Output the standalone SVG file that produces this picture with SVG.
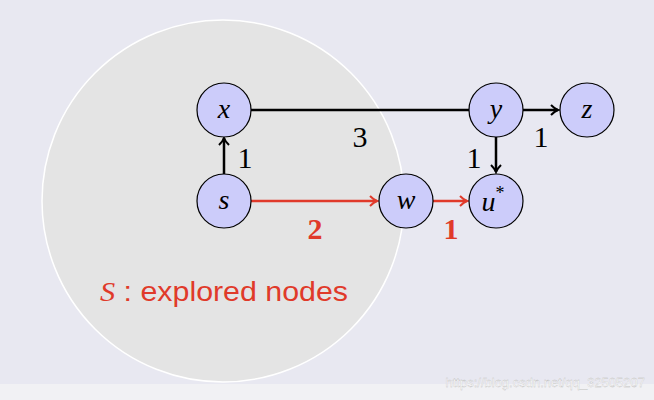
<svg xmlns="http://www.w3.org/2000/svg" width="654" height="400" viewBox="0 0 654 400">
<style>
.n{fill:#ccccfa;stroke:#000;stroke-width:1.2}
.t{font-family:"Liberation Serif",serif;font-style:italic;font-size:28px;text-anchor:middle}
.l{font-family:"Liberation Serif",serif;font-size:30px;text-anchor:middle}
.e{fill:none;stroke-width:2.5}
</style>
<defs>
<marker id="ab" markerWidth="10" markerHeight="12" refX="8" refY="6" orient="auto" markerUnits="userSpaceOnUse"><path d="M1,1 Q5,5 8,6 Q5,7 1,11" fill="none" stroke="#000" stroke-width="2"/></marker>
<marker id="ar" markerWidth="10" markerHeight="12" refX="8" refY="6" orient="auto" markerUnits="userSpaceOnUse"><path d="M1,1 Q5,5 8,6 Q5,7 1,11" fill="none" stroke="#e03a2a" stroke-width="2"/></marker>
</defs>
<rect width="654" height="400" fill="#e8e8f1"/>
<rect y="384" width="654" height="16" fill="#f1f1f4"/>
<circle cx="223" cy="201" r="181" fill="#e4e4e4" stroke="#fff" stroke-width="1.5"/>
<text x="100" y="301" font-family="Liberation Sans,sans-serif" font-size="27" fill="#e03a2a" textLength="248" lengthAdjust="spacingAndGlyphs"><tspan font-family="Liberation Serif,serif" font-style="italic">S</tspan> : explored nodes</text>
<g id="edges">
<path class="e" stroke="#000" d="M251,110H493" marker-end="url(#ab)"/>
<path class="e" stroke="#000" d="M224,174V138" marker-end="url(#ab)"/>
<path class="e" stroke="#000" d="M496,137V172" marker-end="url(#ab)"/>
<path class="e" stroke="#000" d="M523,110H558" marker-end="url(#ab)"/>
<path class="e" stroke="#e03a2a" d="M251,201H377" marker-end="url(#ar)"/>
<path class="e" stroke="#e03a2a" d="M433,201H467" marker-end="url(#ar)"/>
<text class="l" x="360" y="147">3</text>
<text class="l" x="245" y="168">1</text>
<text class="l" x="474" y="168">1</text>
<text class="l" x="541" y="147">1</text>
<text class="l" x="315" y="239" fill="#e03a2a" font-weight="bold">2</text>
<text class="l" x="451" y="239" fill="#e03a2a" font-weight="bold">1</text>
</g>
<g id="x"><circle class="n" cx="224" cy="110" r="27"/><text class="t" x="224" y="118">x</text></g>
<g id="s"><circle class="n" cx="224" cy="201" r="27"/><text class="t" x="224" y="209">s</text></g>
<g id="w"><circle class="n" cx="406" cy="201" r="27"/><text class="t" x="406" y="209">w</text></g>
<g id="y"><circle class="n" cx="496" cy="110" r="27"/><text class="t" x="496" y="118">y</text></g>
<g id="u"><circle class="n" cx="496" cy="201" r="27"/><text class="t" x="493" y="211">u<tspan font-style="normal" font-size="18" dy="-12">*</tspan></text></g>
<g id="z"><circle class="n" cx="587" cy="110" r="27"/><text class="t" x="587" y="118">z</text></g>
<text x="645" y="387" font-family="Liberation Sans,sans-serif" font-size="13" fill="#fff" stroke="#bbb" stroke-width="0.3" text-anchor="end">https://blog.csdn.net/qq_32505207</text>
</svg>
